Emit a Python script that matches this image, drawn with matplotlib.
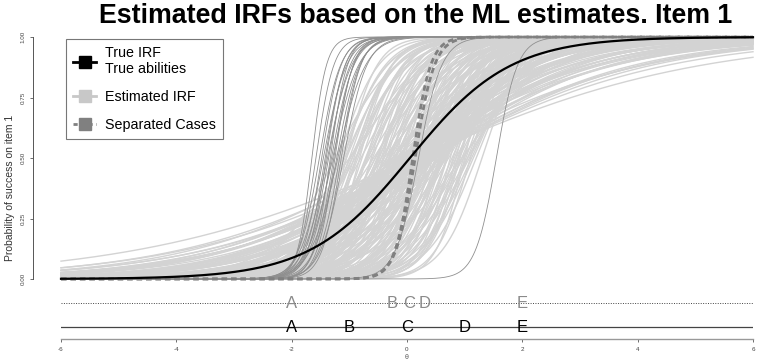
import numpy as np
import matplotlib
matplotlib.use("Agg")
import matplotlib.pyplot as plt
from matplotlib.lines import Line2D

plt.rcParams['font.family'] = ['Liberation Sans', 'DejaVu Sans']

# ---- item parameters (2PL: slope a, location b) ----
true_slope, true_loc = 1.15, 0.05

# ML-estimated item parameters over replications
est_slope = [0.41, 0.48, 0.50, 0.52, 0.53, 0.55, 0.56, 0.58, 0.60, 0.61,
             0.63, 0.64, 0.66, 0.68, 0.70, 0.71, 0.73, 0.75, 0.77, 0.79,
             0.81, 0.83, 0.86, 0.88, 0.90, 0.93, 0.95, 0.98, 1.01, 1.04,
             1.07, 1.10, 1.13, 1.17, 1.21, 1.25, 1.29, 1.34, 1.38, 1.43,
             1.50, 1.55, 1.60, 1.64, 1.68, 1.72, 1.76, 1.80, 1.84, 1.88,
             1.92, 1.96, 2.00, 2.04, 2.08, 2.12, 2.16, 2.20, 2.24, 2.28,
             2.32, 2.36, 2.40, 2.44, 2.48, 2.52, 2.56, 2.60, 2.64, 2.68,
             2.72, 2.76, 2.80, 2.84, 2.88, 2.92, 2.96, 3.00, 3.05, 3.10,
             3.15, 3.20, 3.25, 3.30, 3.36, 3.42, 3.50, 3.58, 3.66, 3.75,
             1.90, 2.50, 3.80, 2.20, 2.90, 1.70, 4.00, 1.40, 1.30,
             0.62, 0.74, 0.85, 0.97, 1.08, 1.19, 1.31, 1.42, 1.53, 1.66,
             1.78, 1.91, 2.03, 2.17, 2.31, 2.46, 2.61, 2.77, 2.93, 3.10,
             0.57, 0.69, 0.80, 0.92, 1.03, 1.15, 1.26, 1.37, 1.48, 1.60,
             1.73, 1.85, 1.98, 2.11, 2.25, 2.39, 2.54, 2.69, 2.85, 3.02,
             0.65, 0.78, 0.90, 1.02, 1.14, 1.27, 1.40, 1.52, 1.65, 1.79,
             1.93, 2.07, 2.22, 2.37, 2.53, 2.70, 2.87, 3.05, 3.22, 3.40,
             0.72, 0.84, 0.96, 1.09, 1.22, 1.35, 1.47, 1.59, 1.71, 1.83,
             1.95, 2.09, 2.23, 2.38, 2.57, 2.74, 2.91, 3.08, 3.28, 3.48,
             1.60, 1.85, 2.10, 2.40, 2.70, 3.00, 3.30, 3.60, 2.20, 2.60,
             1.75, 2.05, 2.35, 2.65, 2.95, 3.25, 1.95, 2.45, 2.80, 3.15]
est_loc = [0.17, 0.30, 0.05, 0.35, 0.26, -0.10, 0.42, 0.12, 0.20, -0.05,
           0.31, 0.08, 0.45, -0.15, 0.22, 0.02, 0.36, 0.15, -0.08, 0.28,
           0.50, 0.10, -0.20, 0.33, 0.18, 0.04, 0.40, -0.12, 0.25, 0.58,
           0.08, -0.30, 0.35, 0.14, -0.05, 0.47, 0.22, -0.22, 0.63, 0.03,
           -0.45, 0.55, -0.65, 0.28, 0.72, -0.30, 0.10, -0.80, 0.45, -0.12,
           0.85, -0.55, 0.30, -0.95, 0.62, 0.00, -0.40, 0.78, -0.70, 0.18,
           0.95, -0.25, 0.50, -0.88, 0.05, 0.70, -0.60, 0.35, -0.15, 0.88,
           -1.00, 0.22, -0.45, 0.60, -0.78, 0.10, 0.80, -0.35, 0.45, -0.92,
           0.68, -0.05, -0.62, 0.32, 0.92, -0.20, 0.55, -0.82, 0.15, 0.75,
           -1.25, -1.15, -1.05, 1.15, 1.30, 1.05, 1.00, -1.00, 0.95,
           0.10, -0.02, 0.27, 0.05, -0.18, 0.40, 0.12, -0.35, 0.52, -0.05,
           0.30, -0.50, 0.65, -0.20, 0.42, -0.72, 0.25, -0.40, 0.58, -0.10,
           0.38, 0.16, -0.11, 0.44, 0.20, -0.25, 0.55, 0.00, -0.58, 0.38,
           -0.36, 0.15, 0.66, -0.68, 0.08, 0.82, -0.48, 0.40, -0.28, 0.62,
           -0.02, 0.35, 0.21, -0.25, 0.48, 0.02, 0.30, 0.68, -0.15, 0.20,
           -0.68, 0.50, -0.32, 0.58, -0.85, 0.28, -0.08, 0.70, -0.50, 0.20,
           0.48, -0.05, 0.12, 0.62, -0.40, 0.18, -0.15, 0.42, 0.02, -0.55,
           0.60, -0.20, 0.40, -0.52, 0.25, -0.30, 0.52, -0.70, 0.05, -0.42,
           0.98, 1.08, 1.12, 1.20, 1.02, 0.90, 1.10, 0.85, -1.08, -1.12,
           -0.90, -0.98, -1.05, -0.95, -1.18, -0.88, 0.90, 1.05, -1.10, 0.98]

# very steep estimates (drawn darker)
steep_slope = [8.0, 6.5, 5.5, 6.0, 5.0, 5.8, 6.2, 4.8, 5.4, 6.8,
               5.2, 4.5, 5.9, 6.4, 5.1, 4.2, 5.6, 6.0, 5.0, 5.5, 5.0]
steep_loc = [-1.65, -1.58, -1.52, -1.48, -1.45, -1.42, -1.40, -1.38, -1.36, -1.33,
             -1.31, -1.29, -1.27, -1.25, -1.22, -1.20, -1.17, -1.14, -1.10, 1.55, 0.20]

# separated cases
sep_slope = [6.5, 6.0]
sep_loc = [0.10, 0.14]

# abilities: true and estimated
person_labels = ['A', 'B', 'C', 'D', 'E']
true_theta = [-2.0, -1.0, 0.0, 1.0, 2.0]
est_theta = [-2.0, -0.25, 0.04, 0.31, 1.99]


def irf(theta, a, b):
    return 1.0 / (1.0 + np.exp(-a * (theta - b)))


theta = np.linspace(-6, 6, 800)

fig = plt.figure(figsize=(7.61, 3.61), dpi=100)
W, H = 761, 361
x0, x1 = 61, 753
ytop, ybot = 37, 339
ax = fig.add_axes([x0 / W, (H - ybot) / H, (x1 - x0) / W, (ybot - ytop) / H])

# y = 0 at pixel 279, y = 1 at pixel 37
ppu = 279 - 37
ymin = -(ybot - 279) / ppu
ax.set_xlim(-6, 6)
ax.set_ylim(ymin, 1.0)

for a, b in zip(est_slope, est_loc):
    ax.plot(theta, irf(theta, a, b), color='#d3d3d3', lw=1.0, zorder=1, clip_on=False)

for a, b in zip(steep_slope, steep_loc):
    ax.plot(theta, irf(theta, a, b), color='#8f8f8f', lw=0.6, zorder=2, clip_on=False)

for a, b in zip(sep_slope, sep_loc):
    ax.plot(theta, irf(theta, a, b), color='#808080', lw=2.0,
            linestyle=(0, (2.0, 1.4)), zorder=3, clip_on=False)

ax.plot(theta, irf(theta, true_slope, true_loc), color='black', lw=1.6, zorder=4,
        clip_on=False)

# ability strips
y_est = -(303 - 279) / ppu
y_true = -(327 - 279) / ppu
ax.plot([-6, 6], [y_est, y_est], color='#444444', lw=0.7, linestyle=(0, (1, 1.5)))
ax.plot([-6, 6], [y_true, y_true], color='#444444', lw=0.9)
for lab, t in zip(person_labels, est_theta):
    ax.text(t, y_est, lab, color='#8a8a8a', fontsize=12, ha='center', va='center',
            zorder=5)
for lab, t in zip(person_labels, true_theta):
    ax.text(t, y_true, lab, color='black', fontsize=12, ha='center', va='center',
            zorder=5)

# axes styling
for s in ['top', 'right']:
    ax.spines[s].set_visible(False)
ax.spines['left'].set_position(('outward', 28 * 72 / 100))
ax.spines['left'].set_bounds(0, 1)
ax.spines['left'].set_color('#555555')
ax.spines['left'].set_linewidth(0.7)
ax.spines['bottom'].set_bounds(-6, 6)
ax.spines['bottom'].set_color('#999999')
ax.spines['bottom'].set_linewidth(1.0)

ax.set_yticks([0, 0.25, 0.5, 0.75, 1.0])
ax.set_yticklabels(['0.00', '0.25', '0.50', '0.75', '1.00'], rotation=90,
                   va='center', fontsize=4.5, color='#444444')
ax.set_xticks([-6, -4, -2, 0, 2, 4, 6])
ax.set_xticklabels(['-6', '-4', '-2', '0', '2', '4', '6'], fontsize=4.5,
                   color='#444444')
ax.tick_params(axis='both', length=2.5, width=0.6, color='#555555', pad=3)
ax.set_xlabel('θ', fontsize=5, color='#555555', labelpad=1.5)
ax.set_ylabel('Probability of success on item 1', fontsize=7.5, color='#333333',
              labelpad=4)

fig.text(416 / W, 1 - 16 / H, 'Estimated IRFs based on the ML estimates. Item 1',
         fontsize=19.3, fontweight='bold', ha='center', va='center')

handles = [
    Line2D([], [], color='black', lw=2.0, marker='s', ms=8),
    Line2D([], [], color='#c8c8c8', lw=2.0, marker='s', ms=8),
    Line2D([], [], color='#808080', lw=2.0, marker='s', ms=8,
           linestyle=(0, (1.5, 1.2))),
]
labels = ['True IRF\nTrue abilities', 'Estimated IRF', 'Separated Cases']
leg = fig.legend(handles, labels, loc='upper left',
                 bbox_to_anchor=(66 / W, 1 - 39 / H), fontsize=10.3,
                 frameon=True, fancybox=False, edgecolor='#555555',
                 handlelength=1.6, handletextpad=0.6, borderpad=0.5,
                 labelspacing=0.95, borderaxespad=0)
leg.get_frame().set_linewidth(0.8)

fig.savefig('out.png', dpi=100)
